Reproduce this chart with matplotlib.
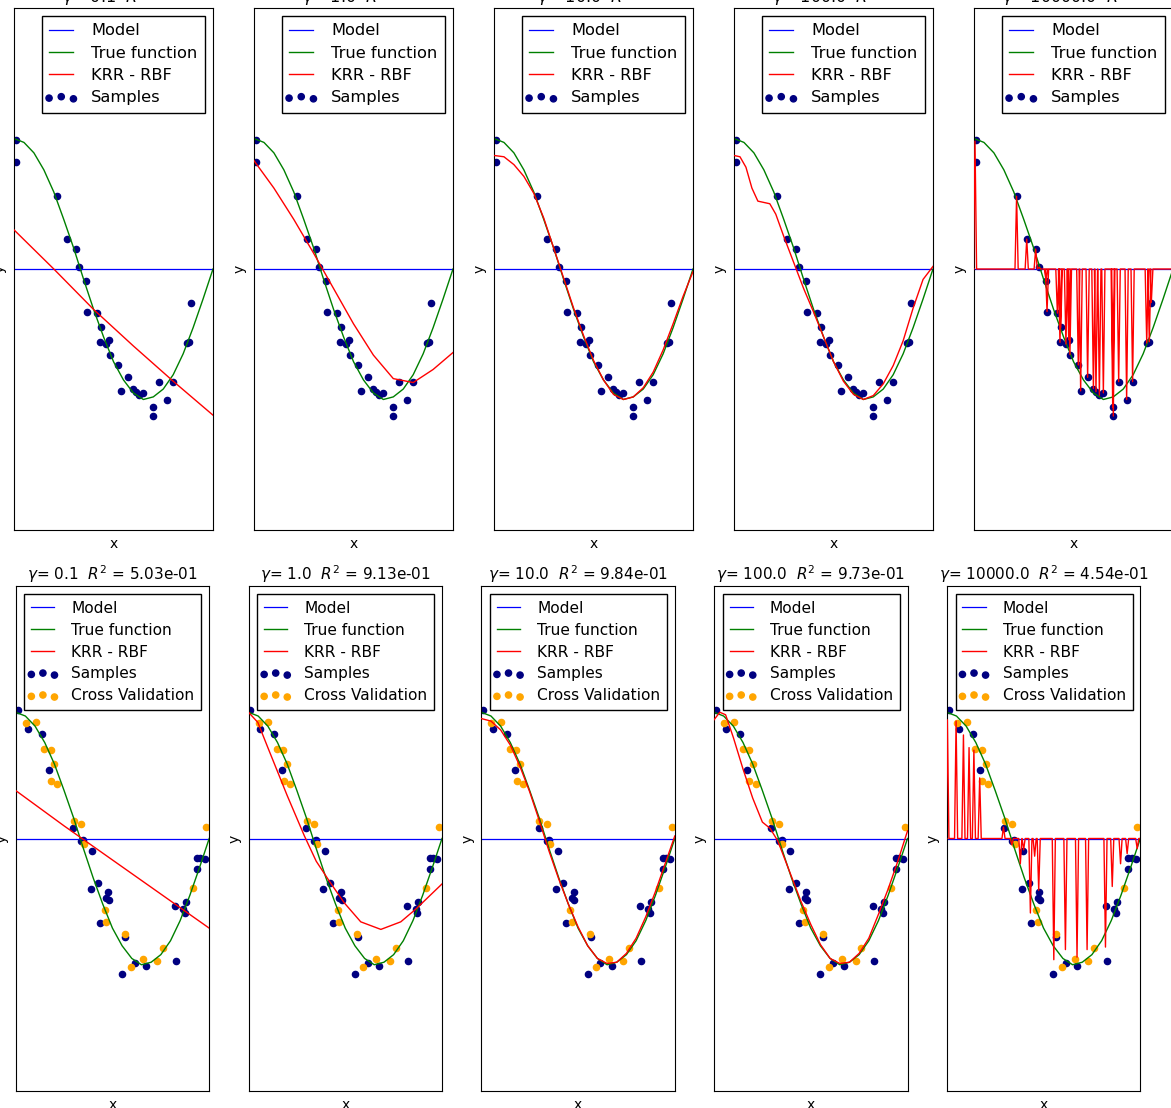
import matplotlib
matplotlib.use('Agg')
import matplotlib.pyplot as plt
from matplotlib.collections import PathCollection
from matplotlib.legend_handler import HandlerPathCollection

# 上段のサンプル点
top_x = [0.01, 0.01, 0.214, 0.265, 0.31, 0.327, 0.362, 0.367, 0.419, 0.436,
         0.432, 0.462, 0.476, 0.482, 0.524, 0.571, 0.536, 0.60, 0.613, 0.63,
         0.65, 0.727, 0.767, 0.697, 0.70, 0.797, 0.868, 0.881, 0.891]
top_y = [0.99, 0.82, 0.557, 0.229, 0.153, 0.013, -0.089, -0.326, -0.338, -0.448,
         -0.562, -0.575, -0.542, -0.656, -0.735, -0.83, -0.934, -0.916, -0.94, -0.967,
         -0.949, -0.863, -1.0, -1.059, -1.127, -0.863, -0.567, -0.557, -0.257]

# 下段の学習サンプルと交差検証サンプル
train_x = [0.01, 0.062, 0.134, 0.172, 0.296, 0.337, 0.349, 0.395, 0.387, 0.423,
           0.478, 0.469, 0.481, 0.437, 0.565, 0.615, 0.674, 0.55, 0.826, 0.821,
           0.864, 0.873, 0.878, 0.938, 0.938, 0.955, 0.976]
train_y = [1.02, 0.87, 0.83, 0.543, 0.084, -0.02, -0.01, -0.097, -0.40, -0.35,
           -0.42, -0.475, -0.49, -0.667, -0.78, -0.99, -1.01, -1.07, -0.97, -0.535,
           -0.56, -0.59, -0.50, -0.245, -0.155, -0.155, -0.16]
cv_x = [0.052, 0.103, 0.148, 0.18, 0.20, 0.182, 0.215, 0.30, 0.337, 0.985,
        0.354, 0.916, 0.46, 0.469, 0.563, 0.594, 0.66, 0.732, 0.761]
cv_y = [0.916, 0.924, 0.711, 0.70, 0.588, 0.457, 0.435, 0.139, 0.113, 0.089,
        -0.04, -0.39, -0.567, -0.66, -0.756, -1.02, -0.953, -0.974, -0.87]

# 真の関数
true_x = [i / 20 for i in range(21)]
true_y = [1.0, 0.97, 0.89, 0.76, 0.59, 0.38, 0.16, -0.08, -0.31, -0.52, -0.71,
          -0.85, -0.95, -1.0, -0.98, -0.92, -0.81, -0.65, -0.45, -0.23, 0.0]

gammas = ['0.1', '1.0', '10.0', '100.0', '10000.0']
bottom_r2 = ['5.03e-01', '9.13e-01', '9.84e-01', '9.73e-01', '4.54e-01']

# KRR の予測曲線（上段）
top_krr = [
    ([0, 0.2, 0.4, 0.6, 0.8, 1.0],
     [0.30, 0.0, -0.31, -0.59, -0.86, -1.12]),
    ([0, 0.1, 0.2, 0.3, 0.4, 0.5, 0.6, 0.7, 0.8, 0.9, 1.0],
     [0.83, 0.62, 0.38, 0.12, -0.15, -0.42, -0.66, -0.84, -0.87, -0.77, -0.64]),
    ([0, 0.05, 0.1, 0.15, 0.2, 0.25, 0.3, 0.35, 0.4, 0.45, 0.5, 0.55, 0.6, 0.65,
      0.7, 0.75, 0.8, 0.85, 0.9, 0.95, 1.0],
     [0.87, 0.86, 0.80, 0.71, 0.58, 0.39, 0.16, -0.07, -0.30, -0.51, -0.70,
      -0.85, -0.96, -1.0, -0.98, -0.91, -0.79, -0.62, -0.42, -0.21, -0.02]),
    ([0, 0.03, 0.06, 0.09, 0.12, 0.15, 0.18, 0.21, 0.25, 0.3, 0.35, 0.4, 0.45,
      0.5, 0.55, 0.6, 0.65, 0.7, 0.75, 0.8, 0.85, 0.9, 0.95, 1.0],
     [0.87, 0.86, 0.78, 0.62, 0.52, 0.51, 0.50, 0.42, 0.25, 0.05, -0.15, -0.33,
      -0.52, -0.71, -0.86, -0.96, -1.0, -0.97, -0.88, -0.74, -0.55, -0.30, -0.08, 0.02]),
]
# 上段 γ=10000 のスパイク頂点（位置と高さ）
top_spike_x = [0.005] + top_x[2:]
top_spike_y = [0.98] + top_y[2:]

bottom_krr = [
    ([0, 0.25, 0.5, 0.75, 1.0],
     [0.38, 0.10, -0.17, -0.44, -0.71]),
    ([0, 0.048, 0.1, 0.2, 0.289, 0.35, 0.423, 0.495, 0.58, 0.684, 0.787, 0.864, 1.0],
     [1.0, 0.92, 0.72, 0.34, 0.02, -0.18, -0.35, -0.51, -0.66, -0.72, -0.66, -0.56, -0.36]),
    ([0, 0.05, 0.1, 0.15, 0.2, 0.25, 0.3, 0.35, 0.4, 0.45, 0.5, 0.55, 0.6, 0.65,
      0.7, 0.75, 0.8, 0.85, 0.9, 0.95, 1.0],
     [0.95, 0.93, 0.86, 0.74, 0.57, 0.37, 0.14, -0.10, -0.32, -0.52, -0.70,
      -0.85, -0.95, -0.99, -0.98, -0.91, -0.79, -0.62, -0.42, -0.20, 0.02]),
    ([0, 0.03, 0.06, 0.1, 0.15, 0.2, 0.25, 0.29, 0.33, 0.38, 0.45, 0.5, 0.55,
      0.6, 0.65, 0.7, 0.75, 0.8, 0.85, 0.9, 0.95, 1.0],
     [0.94, 1.0, 0.98, 0.80, 0.55, 0.32, 0.13, 0.08, -0.02, -0.22, -0.50, -0.68,
      -0.84, -0.95, -0.99, -0.98, -0.91, -0.79, -0.60, -0.40, -0.18, 0.06]),
]
# 下段 γ=10000 のスパイク頂点
bottom_spike_x = [0.003, 0.048, 0.086, 0.115, 0.14, 0.17, 0.293, 0.336, 0.38,
                  0.397, 0.432, 0.454, 0.475, 0.553, 0.613, 0.673, 0.725, 0.82,
                  0.855, 0.898, 0.932, 0.984]
bottom_spike_y = [0.94, 0.93, 0.82, 0.72, 0.70, 0.48, 0.09, -0.05, -0.20,
                  -0.09, -0.59, -0.14, -0.41, -0.96, -0.88, -0.94, -0.88, -0.86,
                  -0.38, -0.20, -0.12, -0.08]


def spikes(xs, ys, half=0.008):
    px, py = [0.0], [0.0]
    for x, y in sorted(zip(xs, ys)):
        px += [x - half, x, x + half]
        py += [0.0, y, 0.0]
    px.append(1.0)
    py.append(0.0)
    return px, py


def draw_panel(ax, krr, show_cv, fs):
    ax.scatter(train_x if show_cv else top_x, train_y if show_cv else top_y,
               s=20, color='navy', edgecolor='navy', label='Samples', zorder=1)
    if show_cv:
        ax.scatter(cv_x, cv_y, s=20, color='orange', edgecolor='orange',
                   label='Cross Validation', zorder=1)
    ax.plot([0, 1], [0, 0], color='blue', lw=0.9, label='Model', zorder=2)
    ax.plot(true_x, true_y, color='green', lw=1, label='True function', zorder=2)
    ax.plot(krr[0], krr[1], color='red', lw=1, label='KRR - RBF', zorder=3)
    ax.set_xlim(0, 1)
    ax.set_ylim(-2, 2)
    ax.set_xticks(())
    ax.set_yticks(())
    ax.set_xlabel('x', fontsize=10, labelpad=5)
    ax.set_ylabel('y', fontsize=10, labelpad=5)
    h, l = ax.get_legend_handles_labels()
    order = ['Model', 'True function', 'KRR - RBF', 'Samples', 'Cross Validation']
    pairs = sorted(zip(h, l), key=lambda p: order.index(p[1]))
    ax.legend([p[0] for p in pairs], [p[1] for p in pairs], loc='upper right',
              fontsize=fs, scatterpoints=3, scatteryoffsets=[0.375, 0.5, 0.3125],
              handler_map={PathCollection: HandlerPathCollection(marker_pad=0.0)},
              fancybox=False, framealpha=1, edgecolor='black',
              handlelength=1.5, handletextpad=1.1, borderpad=0.45,
              labelspacing=0.45, borderaxespad=0.5)


fig = plt.figure(figsize=(11.71, 11.08), dpi=100)
W, H = 1171.0, 1108.0

top_left = [14, 254, 494, 734, 974]
for i, left in enumerate(top_left):
    ax = fig.add_axes([left / W, (H - 530) / H, 199 / W, 522 / H])
    krr = top_krr[i] if i < 4 else spikes(top_spike_x, top_spike_y)
    draw_panel(ax, krr, False, 11.7)
    ax.set_title(r'$\gamma$= %s  $R^2$ =' % gammas[i], fontsize=11.5, pad=3.5)

bottom_left = [15.7, 248.5, 481.3, 714, 946.8]
for i, left in enumerate(bottom_left):
    ax = fig.add_axes([left / W, (H - 1091) / H, 193.5 / W, 505 / H])
    krr = bottom_krr[i] if i < 4 else spikes(bottom_spike_x, bottom_spike_y)
    draw_panel(ax, krr, True, 11.1)
    ax.set_title(r'$\gamma$= %s  $R^2$ = %s' % (gammas[i], bottom_r2[i]),
                 fontsize=11, pad=4)

fig.savefig('out.png', dpi=100)
